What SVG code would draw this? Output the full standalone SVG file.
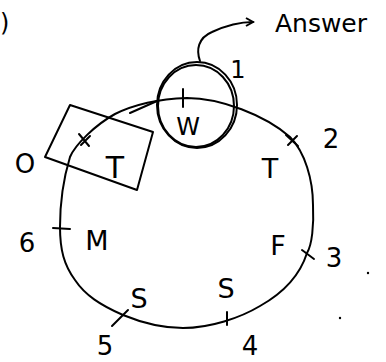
<svg xmlns="http://www.w3.org/2000/svg" width="386" height="362" viewBox="0 0 386 362">
<style>
.s{fill:none;stroke:#000;stroke-width:2;stroke-linecap:round;stroke-linejoin:round}
.t{font-family:"DejaVu Sans",sans-serif;font-size:27px;fill:#000;text-anchor:middle}
.n{font-family:"DejaVu Sans",sans-serif;font-size:26px;fill:#000;text-anchor:middle}
</style>
<defs>
<marker id="ah" markerWidth="10" markerHeight="10" refX="8" refY="5" orient="auto" markerUnits="userSpaceOnUse">
<path d="M1,1 L8,5 L1,9" fill="none" stroke="#000" stroke-width="2"/>
</marker>
</defs>
<rect width="386" height="362" fill="#fff"/>
<text x="0" y="31" class="t" style="text-anchor:start;font-size:24px">)</text>
<g id="loop">
<path class="s" d="M70,157 C75,145 95,125 115,114 C135,104 160,99 187,98 C220,98 265,115 290,137 C305,152 313,180 313,205 C314,225 312,245 307,253 C300,275 285,292 260,306 C240,318 210,328 183,328 C160,328 140,322 123,315 C100,305 85,295 75,280 C64,265 60,250 60,227 C60,205 63,180 70,157 Z"/>
</g>
<g id="connectors">
<path class="s" d="M200,61 C196,50 198,38 212,32 C225,26 238,22 253,22" marker-end="url(#ah)"/>
<path class="s" d="M130,113 L157,101"/>
</g>
<g id="node-answer"><text x="321" y="32" class="t" style="font-size:25px">Answer</text></g>
<g id="node-w">
<ellipse class="s" cx="197" cy="105" rx="40" ry="43"/>
<ellipse class="s" cx="196" cy="106" rx="38" ry="41" stroke-width="1.5"/>
<path class="s" d="M183,89 L183,107"/>
<text x="188" y="135" class="t" style="font-size:24px">W</text>
<text x="238" y="78" class="n" style="font-size:24px">1</text>
</g>
<g id="node-box">
<path class="s" d="M70,105 L153,132 L137,190 L45,157 Z"/>
<path class="s" d="M79,134 L89,146 M81,145 L90,136"/>
<text x="115" y="178" class="t" style="font-size:30px">T</text>
<text x="25" y="173" class="n">O</text>
</g>
<g id="node-2">
<path class="s" d="M286,135 L298,146 M288,145 L297,136"/>
<text x="331" y="148" class="n">2</text>
<text x="270" y="178" class="t">T</text>
</g>
<g id="node-3">
<path class="s" d="M302,250 L314,259"/>
<text x="334" y="267" class="n">3</text>
<text x="278" y="255" class="t">F</text>
</g>
<g id="node-4">
<path class="s" d="M227,312 L227,325"/>
<text x="250" y="355" class="n">4</text>
<text x="226" y="298" class="t">S</text>
</g>
<g id="node-5">
<path class="s" d="M112,326 L128,310"/>
<text x="105" y="355" class="n">5</text>
<text x="139" y="308" class="t">S</text>
</g>
<g id="node-6">
<path class="s" d="M53,228 L70,229"/>
<text x="27" y="252" class="n">6</text>
<text x="97" y="250" class="t">M</text>
</g>
<circle cx="368" cy="273" r="1.2" fill="#000"/>
<circle cx="340" cy="318" r="1.2" fill="#000"/>
</svg>
